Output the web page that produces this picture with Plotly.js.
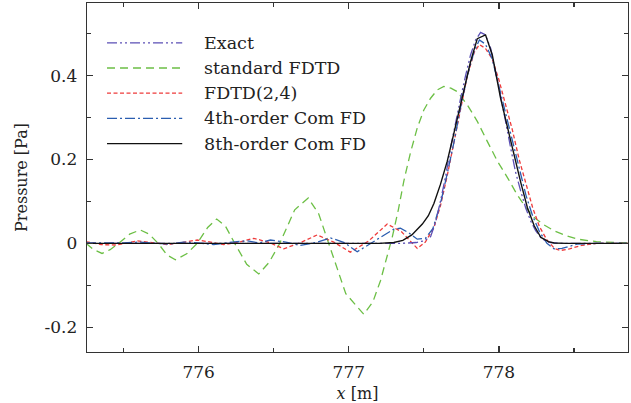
<!DOCTYPE html>
<html>
<head>
<meta charset="utf-8">
<script src="https://cdn.plot.ly/plotly-3.0.1.min.js"></script>
<style>html,body{margin:0;padding:0;background:#fff;}#chart{width:631px;height:403px;}</style>
</head>
<body>
<div id="chart"></div>
<script>
// ---- data ----
const seriesNames = ["Exact", "standard FDTD", "FDTD(2,4)", "4th-order Com FD", "8th-order Com FD"];

const exactX = [775.25, 777.0, 777.35, 777.45, 777.5, 777.545, 777.578, 777.611, 777.645, 777.678, 777.711, 777.745, 777.778, 777.811, 777.845, 777.878, 777.91, 777.945, 777.978, 778.011, 778.045, 778.078, 778.111, 778.145, 778.178, 778.211, 778.245, 778.278, 778.311, 778.345, 778.4, 778.5, 778.86];
const exactY = [0, 0, 0, 0.002, 0.006, 0.016, 0.05, 0.101, 0.16, 0.228, 0.29, 0.346, 0.40, 0.449, 0.485, 0.503, 0.497, 0.465, 0.41, 0.354, 0.29, 0.228, 0.17, 0.125, 0.085, 0.054, 0.03, 0.014, 0.006, 0.002, 0, 0, 0];

const stdX = [775.25, 775.3, 775.356, 775.41, 775.467, 775.54, 775.61, 775.67, 775.73, 775.79, 775.845, 775.92, 775.99, 776.06, 776.12, 776.18, 776.24, 776.32, 776.40, 776.47, 776.54, 776.64, 776.73, 776.80, 776.866, 776.98, 777.10, 777.16, 777.211, 777.25, 777.289, 777.33, 777.367, 777.41, 777.456, 777.5, 777.545, 777.59, 777.633, 777.68, 777.722, 777.79, 777.856, 777.92, 777.99, 778.06, 778.12, 778.18, 778.233, 778.3, 778.367, 778.45, 778.523, 778.65, 778.86];
const stdY = [0.0, -0.015, -0.024, -0.015, 0.0, 0.022, 0.032, 0.022, 0.0, -0.028, -0.039, -0.025, 0.0, 0.038, 0.058, 0.040, 0.0, -0.05, -0.073, -0.045, 0.0, 0.08, 0.108, 0.07, 0.0, -0.12, -0.169, -0.14, -0.089, -0.04, 0.014, 0.08, 0.149, 0.215, 0.275, 0.318, 0.346, 0.366, 0.374, 0.370, 0.362, 0.33, 0.291, 0.245, 0.196, 0.155, 0.117, 0.085, 0.062, 0.044, 0.030, 0.018, 0.010, 0.004, 0.001];

const fd24X = [775.25, 775.35, 775.45, 775.59, 775.69, 775.79, 775.89, 775.99, 776.08, 776.167, 776.27, 776.367, 776.47, 776.567, 776.68, 776.789, 776.9, 777.01, 777.13, 777.256, 777.35, 777.456, 777.51, 777.567, 777.611, 777.655, 777.7, 777.745, 777.79, 777.835, 777.87, 777.91, 777.955, 778.0, 778.045, 778.09, 778.135, 778.18, 778.225, 778.27, 778.32, 778.37, 778.41, 778.47, 778.55, 778.65, 778.86];
const fd24Y = [0.004, -0.003, -0.004, 0.006, 0.002, -0.003, 0.002, 0.008, 0.003, -0.003, 0.003, 0.012, 0.002, -0.013, 0.002, 0.020, 0.003, -0.021, 0.005, 0.046, 0.028, -0.012, 0.003, 0.038, 0.09, 0.16, 0.24, 0.32, 0.40, 0.455, 0.474, 0.465, 0.44, 0.39, 0.33, 0.27, 0.20, 0.14, 0.085, 0.04, 0.008, -0.012, -0.017, -0.013, -0.005, 0, 0];

const com4X = [775.25, 775.5, 775.6, 775.7, 775.8, 775.9, 776.0, 776.1, 776.2, 776.32, 776.4, 776.478, 776.58, 776.678, 776.78, 776.878, 776.97, 777.056, 777.2, 777.3, 777.344, 777.4, 777.456, 777.51, 777.56, 777.611, 777.655, 777.7, 777.745, 777.79, 777.835, 777.87, 777.91, 777.955, 778.0, 778.045, 778.09, 778.135, 778.18, 778.225, 778.27, 778.32, 778.367, 778.42, 778.52, 778.65, 778.86];
const com4Y = [0.001, 0.001, 0.003, 0.0, -0.002, 0.003, 0.001, -0.003, 0.002, 0.006, 0.001, 0.008, 0.003, -0.005, 0.002, 0.013, 0.002, -0.02, 0.012, 0.034, 0.036, 0.025, 0.010, 0.012, 0.035, 0.095, 0.165, 0.24, 0.325, 0.40, 0.458, 0.485, 0.475, 0.44, 0.375, 0.31, 0.24, 0.175, 0.115, 0.065, 0.028, 0.0, -0.013, -0.012, -0.002, 0, 0];

const com8X = [775.25, 777.2, 777.3, 777.36, 777.42, 777.49, 777.53, 777.567, 777.61, 777.656, 777.70, 777.745, 777.78, 777.811, 777.856, 777.911, 777.956, 778.011, 778.055, 778.1, 778.145, 778.19, 778.235, 778.28, 778.33, 778.367, 778.45, 778.86];
const com8Y = [0, 0, 0.002, 0.007, 0.02, 0.046, 0.066, 0.095, 0.14, 0.196, 0.262, 0.331, 0.385, 0.433, 0.488, 0.497, 0.449, 0.346, 0.28, 0.212, 0.146, 0.085, 0.042, 0.014, 0.004, 0.001, 0, 0];

const yTickVals = [-0.2, 0, 0.2, 0.4];
const yTickText = ["-0.2", "0", "0.2", "0.4"];
const xTickVals = [776, 777, 778];
const xTickText = ["776", "777", "778"];

// ---- styles ----
const colors = ["#5b4fb5", "#6cbf45", "#ee3b3b", "#2a5db0", "#111111"];
const dashes = ["10px,3px,2px,3px,2px,3px", "8px,5px", "4px,2.5px", "10px,3px,2px,3px", "solid"];
const widths = [1.3, 1.3, 1.3, 1.3, 1.4];
const FONT = "DejaVu Serif";

const xs = [exactX, stdX, fd24X, com4X, com8X];
const ys = [exactY, stdY, fd24Y, com4Y, com8Y];
const drawOrder = [1, 2, 3, 0, 4];

const traces = drawOrder.map(i => ({
  type: "scatter", mode: "lines", name: seriesNames[i],
  x: xs[i], y: ys[i],
  line: {color: colors[i], dash: dashes[i], width: widths[i]},
  showlegend: false, hoverinfo: "skip"
}));

const legY0 = 0.886, legDy = 0.0722;
const shapes = [], annotations = [];
seriesNames.forEach((nm, i) => {
  const yy = legY0 - i * legDy;
  shapes.push({type: "line", xref: "paper", yref: "paper", x0: 0.037, x1: 0.176, y0: yy, y1: yy,
    line: {color: colors[i], dash: dashes[i], width: widths[i]}});
  annotations.push({xref: "paper", yref: "paper", x: 0.213, y: yy, xanchor: "left", yanchor: "middle",
    text: nm, showarrow: false, font: {family: FONT, size: 17.5, color: "#222"}});
});

const axisCommon = {
  showline: true, linecolor: "#333", linewidth: 1.3, mirror: "ticks",
  ticks: "inside", ticklen: 6, tickwidth: 1.2, tickcolor: "#333",
  showgrid: false, zeroline: false,
  tickfont: {family: FONT, size: 17, color: "#222"}
};

const layout = {
  width: 631, height: 403,
  margin: {l: 87, r: 3, t: 3, b: 51},
  paper_bgcolor: "#fff", plot_bgcolor: "#fff",
  font: {family: FONT},
  showlegend: false,
  xaxis: Object.assign({}, axisCommon, {
    range: [775.256, 778.86], tickmode: "array", tickvals: xTickVals, ticktext: xTickText,
    minor: {dtick: 0.5, tick0: 775.5, ticks: "inside", ticklen: 4, tickcolor: "#333", tickwidth: 1.1},
    ticklabelstandoff: 4,
    title: {text: "<i>x</i> [m]", font: {family: FONT, size: 16, color: "#222"}, standoff: 10}
  }),
  yaxis: Object.assign({}, axisCommon, {
    range: [-0.259, 0.573], tickmode: "array", tickvals: yTickVals, ticktext: yTickText,
    minor: {dtick: 0.1, tick0: 0, ticks: "inside", ticklen: 4, tickcolor: "#333", tickwidth: 1.1},
    ticklabelstandoff: 5,
    title: {text: "Pressure [Pa]", font: {family: FONT, size: 16, color: "#222"}, standoff: 13}
  }),
  shapes: shapes,
  annotations: annotations
};

Plotly.newPlot("chart", traces, layout, {staticPlot: true, displayModeBar: false});
</script>
</body>
</html>
